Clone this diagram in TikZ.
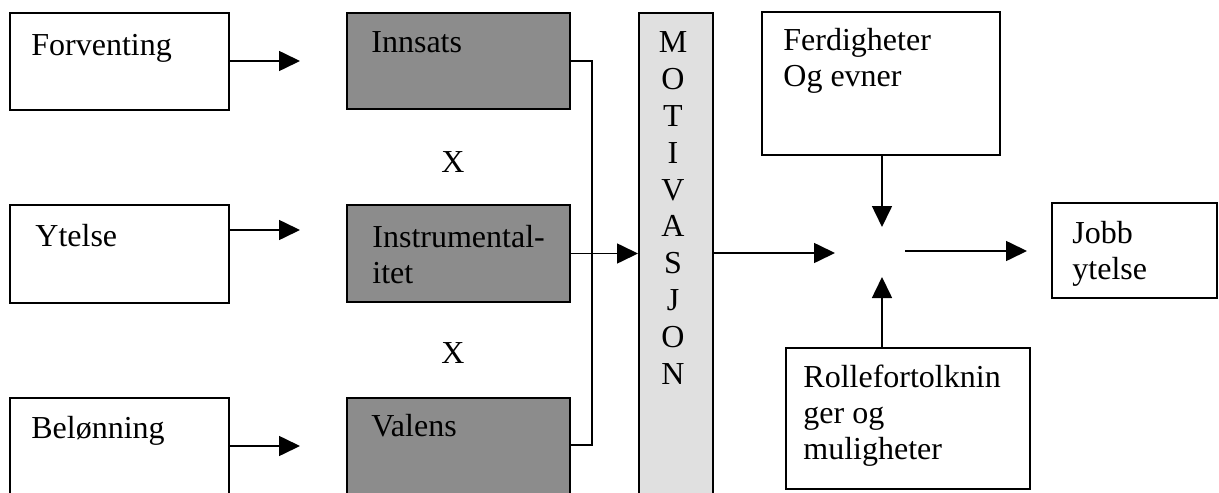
\documentclass[tikz,border=0pt]{standalone}
\usepackage{fontspec}
\setmainfont{Liberation Serif}
\usetikzlibrary{arrows.meta}
\definecolor{boxgray}{RGB}{140,140,140}
\definecolor{motivfill}{RGB}{224,224,224}
\begin{document}
\begin{tikzpicture}[x=0.5pt,y=-0.5pt,
  box/.style={draw, line width=1pt, inner sep=0pt, rectangle},
  wbox/.style={box, fill=white},
  gbox/.style={box, fill=boxgray},
  mbox/.style={box, fill=motivfill},
  txt/.style={anchor=north west, inner sep=0pt, align=left, font=\fontsize{16}{18}\selectfont},
  xlab/.style={anchor=base, inner sep=0pt, font=\fontsize{16}{18}\selectfont},
  vtxt/.style={anchor=north, inner sep=0pt, align=center, font=\fontsize{16}{18.4}\selectfont},
  conn/.style={line width=0.8pt},
  arr/.style={line width=0.8pt, -{Triangle[length=10.5pt,width=10pt]}}]
\clip (0,0) rectangle (1219,492);
\fill[white] (0,0) rectangle (1219,492);

% left column
\node[wbox, minimum width=109.5pt, minimum height=48.5pt] (forv) at (119.5,61.5) {};
\node[wbox, minimum width=109.5pt, minimum height=49pt] (ytel) at (119.5,254) {};
\node[wbox, minimum width=109.5pt, minimum height=71pt] (belo) at (119.5,469) {};
\node[txt] (forvt) at (31,29.8) {\strut Forventing};
\node[txt] (ytelt) at (35,220.8) {\strut Ytelse};
\node[txt] (belot) at (31,412.8) {\strut Belønning};

% gray column
\node[gbox, minimum width=111.5pt, minimum height=48pt] (inns) at (458.5,61) {};
\node[gbox, minimum width=111.5pt, minimum height=48.5pt] (instr) at (458.5,253.5) {};
\node[gbox, minimum width=111.5pt, minimum height=71pt] (val) at (458.5,469) {};
\node[txt] (innst) at (371,26.8) {\strut Innsats};
\node[txt] (instrt) at (372,221.8) {\strut Instrumental-\\itet};
\node[txt] (valt) at (371,410.8) {\strut Valens};
\node[xlab] (x1) at (453,172) {X};
\node[xlab] (x2) at (453,363) {X};

% motivasjon
\node[mbox, minimum width=37pt, minimum height=263.5pt] (motiv) at (676,276.5) {};
\node[vtxt] (motivt) at (673,26.8) {\strut M\\O\\T\\I\\V\\A\\S\\J\\O\\N};

% right part
\node[wbox, minimum width=119pt, minimum height=71.5pt] (ferd) at (881,83.5) {};
\node[txt] (ferdt) at (783,24.8) {\strut Ferdigheter\\Og evner};
\node[wbox, minimum width=82.5pt, minimum height=47.5pt] (jobb) at (1134.5,250.5) {};
\node[txt] (jobbt) at (1072,217.8) {\strut Jobb\\ytelse};
\node[wbox, minimum width=122pt, minimum height=70.5pt] (rolle) at (908,418.5) {};
\node[txt] (rollet) at (803,361.8) {\strut Rollefortolknin\\ger og\\muligheter};

% coordinates
\coordinate (ftip) at (300,61);
\coordinate (ytip) at (300,230);
\coordinate (btip) at (300,446);
\coordinate (vbus) at (592,445);
\coordinate (inL) at (835,253);
\coordinate (inT) at (882,227);
\coordinate (inB) at (882,277);
\coordinate (outS) at (905,251);

% connectors
\draw[arr] (forv.east |- ftip) -- (ftip);
\draw[arr] (ytel.east |- ytip) -- (ytip);
\draw[arr] (belo.east |- btip) -- (btip);
\draw[conn] (inns.east) -| (vbus) -- (val.east |- vbus);
\draw[arr] (instr.east) -- (motiv.west |- instr.east);
\draw[arr] (motiv.east |- inL) -- (inL);
\draw[arr] (ferd.south -| inT) -- (inT);
\draw[arr] (rolle.north -| inB) -- (inB);
\draw[arr, shorten >=12pt] (outS) -- (jobb.west |- outS);
\end{tikzpicture}
\end{document}
